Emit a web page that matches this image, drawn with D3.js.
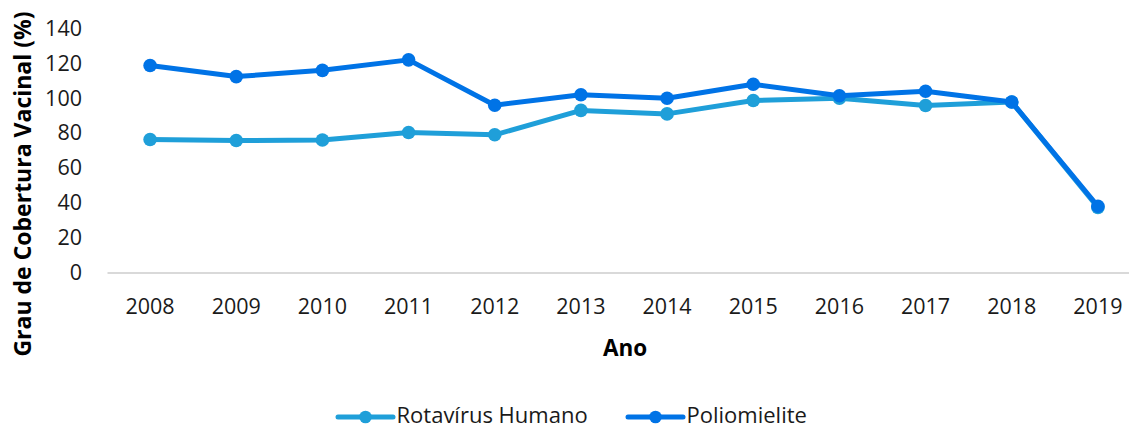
<!DOCTYPE html>
<html><head><meta charset="utf-8">
<script src="https://cdn.jsdelivr.net/npm/d3@7"></script>
<style>body{margin:0;background:#fff}svg{display:block}text{font-family:"Open Sans","Noto Sans",sans-serif}</style>
</head><body><svg id="c" width="1129" height="429"></svg>
<script>
const years = ["2008","2009","2010","2011","2012","2013","2014","2015","2016","2017","2018","2019"];
const rotavirus = [76.3, 75.7, 76, 80.3, 79, 93, 91, 98.7, 100, 95.8, 97.8, 37.3];
const polio = [118.8, 112.4, 116, 122, 96, 102, 100, 108, 101.4, 104, 97.8, 38];
const yTicks = [0, 20, 40, 60, 80, 100, 120, 140];
const seriesNames = ["Rotavírus Humano", "Poliomielite"];
const colors = ["#1f9fd9", "#0073e6"];

const svg = d3.select("#c");
const x = d3.scaleBand().domain(years).range([107, 1141]);
const y = d3.scaleLinear().domain([0, 140]).range([272.5, 28.5]);

// y tick labels
const ya = svg.append("g").attr("transform","translate(82,0)")
  .call(d3.axisLeft(y).tickValues(yTicks).tickSize(0).tickPadding(0));
ya.select(".domain").remove();
ya.selectAll("text").style("font-size","21.5px").attr("fill","#1a1a1a").attr("font-family",null);

// x axis
const xa = svg.append("g").attr("transform","translate(0,272.5)")
  .call(d3.axisBottom(x).tickSize(0).tickPadding(26));
xa.select(".domain").attr("stroke","#d9d9d9").attr("stroke-width",2);
xa.selectAll("text").style("font-size","21.5px").attr("fill","#1a1a1a").attr("font-family",null);

// titles
svg.append("text").attr("x",625).attr("y",356).attr("text-anchor","middle")
  .style("font-size","22.5px").style("font-weight","bold").attr("fill","#000").text("Ano");
svg.append("text").attr("transform","translate(31,184) rotate(-90)").attr("text-anchor","middle")
  .style("font-size","23px").style("font-weight","bold").attr("fill","#000").text("Grau de Cobertura Vacinal (%)");

const line = d3.line().x((d,i)=>x(years[i])+x.bandwidth()/2).y(d=>y(d));
[rotavirus, polio].forEach((s,k)=>{
  const g = svg.append("g");
  g.append("path").datum(s).attr("d",line).attr("fill","none")
    .attr("stroke",colors[k]).attr("stroke-width",5).attr("stroke-linejoin","round");
  g.selectAll("circle").data(s).join("circle")
    .attr("cx",(d,i)=>x(years[i])+x.bandwidth()/2).attr("cy",d=>y(d)).attr("r",6.8)
    .attr("fill",colors[k]);
});

// legend
const legX = [338, 628];
seriesNames.forEach((n,k)=>{
  const g = svg.append("g").attr("transform",`translate(${legX[k]},417)`);
  g.append("line").attr("x1",0).attr("x2",55).attr("y1",0).attr("y2",0)
    .attr("stroke",colors[k]).attr("stroke-width",5).attr("stroke-linecap","round");
  g.append("circle").attr("cx",27.5).attr("cy",0).attr("r",6.3).attr("fill",colors[k]);
  g.append("text").attr("x",58.5).attr("y",6).style("font-size","22px").attr("fill","#1a1a1a").text(n);
});
</script></body></html>
